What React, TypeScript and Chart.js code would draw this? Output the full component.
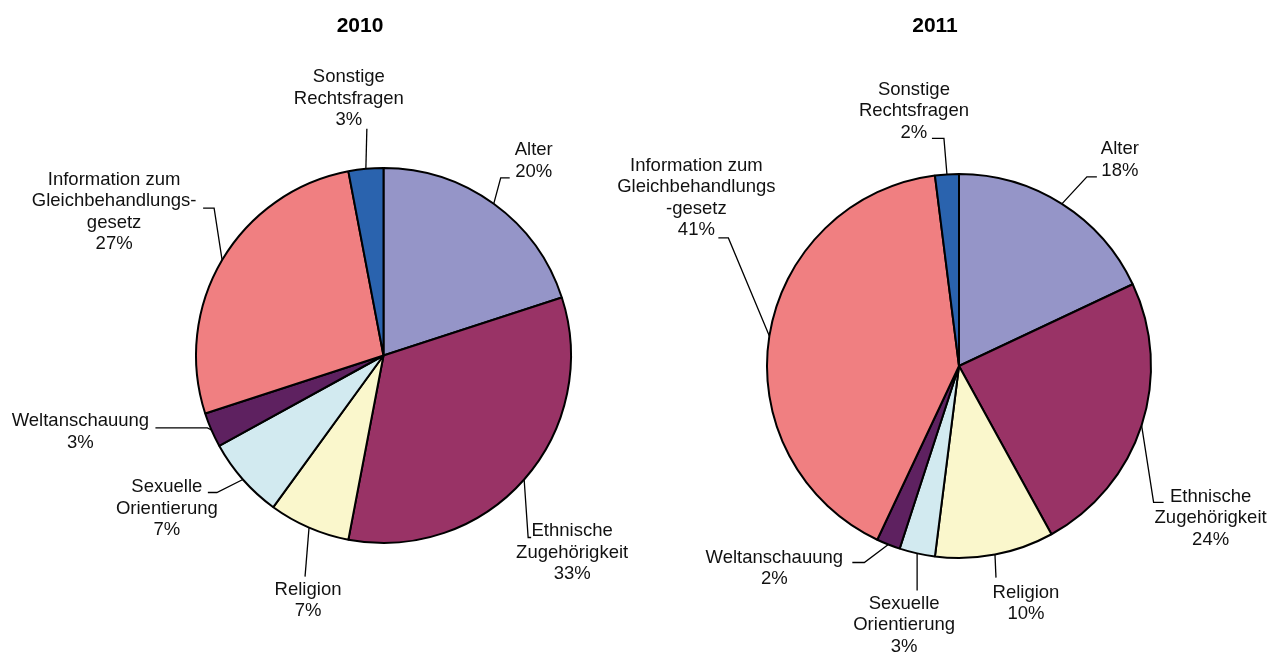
import React, { useEffect, useRef } from "react";
import { Chart, registerables } from "chart.js";

Chart.register(...registerables);

const categories = [
  "Alter",
  "Ethnische Zugehörigkeit",
  "Religion",
  "Sexuelle Orientierung",
  "Weltanschauung",
  "Information zum Gleichbehandlungsgesetz",
  "Sonstige Rechtsfragen",
];
const values2010 = [20, 33, 7, 7, 3, 27, 3];
const values2011 = [18, 24, 10, 3, 2, 41, 2];
const sliceColors = ["#9595C8", "#993366", "#FAF7CC", "#D2EAF0", "#5E2160", "#F07F81", "#2A63AE"];

const labelLines2010 = [
  ["Alter"],
  ["Ethnische", "Zugehörigkeit"],
  ["Religion"],
  ["Sexuelle", "Orientierung"],
  ["Weltanschauung"],
  ["Information zum", "Gleichbehandlungs-", "gesetz"],
  ["Sonstige", "Rechtsfragen"],
];
const labelLines2011 = [
  ["Alter"],
  ["Ethnische", "Zugehörigkeit"],
  ["Religion"],
  ["Sexuelle", "Orientierung"],
  ["Weltanschauung"],
  ["Information zum", "Gleichbehandlungs", "-gesetz"],
  ["Sonstige", "Rechtsfragen"],
];

// label placement relative to slice edge midpoint: [textDx, textDy, elbowDx, elbowDy, tailDx]
const labelLayout2010 = [
  [40, -43, 7, -26, 9],
  [48, 73, 4, 58, 3],
  [-1, 73, -4, 49, 0],
  [-76, 29, -26, 13, -9],
  [-131, 2, -4, -2, -52],
  [-108, -48, -8, -52, -11],
  [-17, -70, 1, -40, 0],
];
const labelLayout2011 = [
  [58, -44, 25, -27, 10],
  [69, 93, 12, 77, 10],
  [31, 49, 1, 23, 0],
  [-13, 72, 0, 37, 0],
  [-114, 24, -24, 18, -12],
  [-73, -138, -41, -98, -10],
  [-33, -63, -3, -36, -12],
];

const FONT = '"Liberation Sans", Arial, sans-serif';

function makeLabelPlugin(title: string, titleX: number, lines: string[][], layout: number[][], values: number[]) {
  return {
    id: "pieLabels",
    afterDatasetsDraw(chart: any) {
      const ctx = chart.ctx as CanvasRenderingContext2D;
      const meta = chart.getDatasetMeta(0);
      ctx.save();
      ctx.fillStyle = "#000";
      ctx.font = `bold 21px ${FONT}`;
      ctx.textAlign = "center";
      ctx.textBaseline = "middle";
      ctx.fillText(title, titleX, 26);

      meta.data.forEach((arc: any, i: number) => {
        const p = arc.getProps(["x", "y", "startAngle", "endAngle", "outerRadius"], true);
        const mid = (p.startAngle + p.endAngle) / 2;
        const ex = p.x + p.outerRadius * Math.cos(mid);
        const ey = p.y + p.outerRadius * Math.sin(mid);
        const [tdx, tdy, edx, edy, hx] = layout[i];
        ctx.strokeStyle = "#000";
        ctx.lineWidth = 1.3;
        ctx.beginPath();
        ctx.moveTo(ex, ey);
        ctx.lineTo(ex + edx, ey + edy);
        if (hx) ctx.lineTo(ex + edx + hx, ey + edy);
        ctx.stroke();

        const txt = [...lines[i], `${values[i]}%`];
        const lh = 21.5;
        ctx.fillStyle = "#111";
        ctx.font = `18.5px ${FONT}`;
        ctx.textAlign = "center";
        ctx.textBaseline = "middle";
        const cx = ex + tdx;
        const cy = ey + tdy;
        txt.forEach((t, k) => {
          ctx.fillText(t, cx, cy + (k - (txt.length - 1) / 2) * lh);
        });
      });
      ctx.restore();
    },
  };
}

function PieChart(props: {
  values: number[];
  lines: string[][];
  layout: number[][];
  title: string;
  titleX: number;
  width: number;
  padding: { left: number; right: number; top: number; bottom: number };
}) {
  const ref = useRef<HTMLCanvasElement | null>(null);
  useEffect(() => {
    if (!ref.current) return;
    const chart = new Chart(ref.current, {
      type: "pie",
      data: {
        labels: categories,
        datasets: [
          {
            data: props.values,
            backgroundColor: sliceColors,
            borderColor: "#000",
            borderWidth: 2,
          },
        ],
      },
      options: {
        responsive: false,
        animation: false,
        devicePixelRatio: 1,
        layout: { padding: props.padding },
        plugins: { legend: { display: false }, title: { display: false }, tooltip: { enabled: false } },
      },
      plugins: [makeLabelPlugin(props.title, props.titleX, props.lines, props.layout, props.values)],
    } as any);
    return () => chart.destroy();
  }, []);
  return <canvas ref={ref} width={props.width} height={655} style={{ display: "block", width: props.width, height: 655 }} />;
}

export default function App() {
  return (
    <div style={{ position: "absolute", left: 0, top: 0, width: 1277, height: 655, background: "#fff", overflow: "hidden" }}>
      <div style={{ position: "absolute", left: 0, top: 0 }}>
        <PieChart
          values={values2010}
          lines={labelLines2010}
          layout={labelLayout2010}
          title="2010"
          titleX={360}
          width={640}
          padding={{ left: 195, right: 68, top: 167, bottom: 111 }}
        />
      </div>
      <div style={{ position: "absolute", left: 560, top: 0 }}>
        <PieChart
          values={values2011}
          lines={labelLines2011}
          layout={labelLayout2011}
          title="2011"
          titleX={375}
          width={717}
          padding={{ left: 206, right: 125, top: 173, bottom: 96 }}
        />
      </div>
    </div>
  );
}
